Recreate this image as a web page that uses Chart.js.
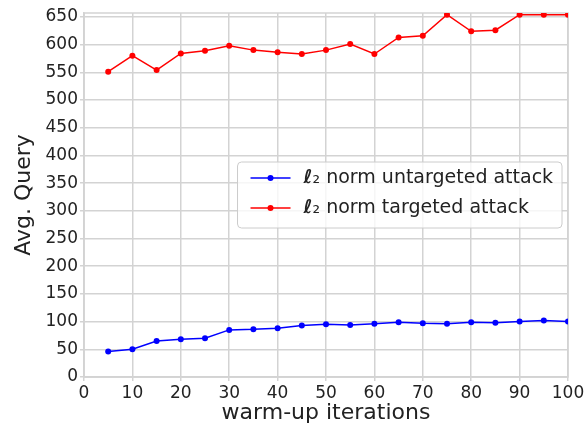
<!DOCTYPE html>
<html>
<head>
<meta charset="utf-8">
<script src="https://cdn.jsdelivr.net/npm/chart.js@4.4.0/dist/chart.umd.min.js"></script>
<style>
  html, body { margin: 0; padding: 0; background: #fff; }
  #wrap { width: 587px; height: 426px; }
</style>
</head>
<body>
<div id="wrap"><canvas id="chart"></canvas></div>
<script>
const iterations = [5, 10, 15, 20, 25, 30, 35, 40, 45, 50, 55, 60, 65, 70, 75, 80, 85, 90, 95, 100];
const untargeted = [46, 50, 65, 68, 70, 85, 86, 88, 93, 95, 94, 96, 99, 97, 96, 99, 98, 100, 102, 100];
const targeted = [551, 580, 554, 584, 589, 598, 590, 586, 583, 590, 601, 583, 613, 616, 654, 624, 626, 654, 654, 654];
const seriesNames = ['ℓ₂ norm untargeted attack', 'ℓ₂ norm targeted attack'];
const yTicks = [0, 50, 100, 150, 200, 250, 300, 350, 400, 450, 500, 550, 600, 650];
const xTickStep = 10;

const FONT = '"DejaVu Sans", sans-serif';
const GRID = '#d3d3d3';
const TEXT = '#222';

// light frame round the plot area, like the matplotlib box
const frame = {
  id: 'frame',
  beforeDatasetsDraw(chart) {
    const a = chart.chartArea, ctx = chart.ctx;
    ctx.save();
    ctx.strokeStyle = GRID;
    ctx.lineWidth = 1.5;
    ctx.strokeRect(a.left, a.top, a.right - a.left, a.bottom - a.top);
    ctx.restore();
  }
};

// boxed legend sitting at the centre right of the plot
const boxLegend = {
  id: 'boxLegend',
  afterDraw(chart) {
    const ctx = chart.ctx, a = chart.chartArea;
    const sets = chart.data.datasets;
    ctx.save();
    ctx.font = '19px ' + FONT;
    const rowH = 30, lineW = 40, gap = 13, padL = 13, padR = 10;
    const textW = Math.max(...sets.map(d => ctx.measureText(d.label).width));
    const w = padL + lineW + gap + textW + padR;
    const h = rowH * sets.length + 6;
    const x = a.right - 6 - w;
    const y = (a.top + a.bottom) / 2 - h / 2;

    ctx.beginPath();
    ctx.roundRect(x, y, w, h, 4);
    ctx.fillStyle = 'rgba(255,255,255,0.8)';
    ctx.fill();
    ctx.strokeStyle = '#cccccc';
    ctx.lineWidth = 1;
    ctx.stroke();

    sets.forEach((d, i) => {
      const cy = y + 16 + i * rowH;
      ctx.strokeStyle = d.borderColor;
      ctx.lineWidth = 1.5;
      ctx.beginPath();
      ctx.moveTo(x + padL, cy);
      ctx.lineTo(x + padL + lineW, cy);
      ctx.stroke();
      ctx.fillStyle = d.borderColor;
      ctx.beginPath();
      ctx.arc(x + padL + lineW / 2, cy, 3, 0, Math.PI * 2);
      ctx.fill();

      ctx.fillStyle = TEXT;
      ctx.textBaseline = 'middle';
      let tx = x + padL + lineW + gap;
      const first = d.label.charAt(0);
      const rest = d.label.slice(1);
      ctx.font = 'italic bold 19px ' + FONT;
      ctx.fillText(first, tx, cy);
      tx += ctx.measureText(first).width;
      ctx.font = '19px ' + FONT;
      ctx.fillText(rest, tx, cy);
    });
    ctx.restore();
  }
};

const ctx = document.getElementById('chart').getContext('2d');
const chart = new Chart(ctx, {
  type: 'line',
  data: {
    datasets: [
      {
        label: seriesNames[0],
        data: iterations.map((x, i) => ({ x: x, y: untargeted[i] })),
        borderColor: '#0000ff',
        backgroundColor: '#0000ff',
        borderWidth: 1.5,
        pointRadius: 3,
        pointBorderWidth: 0,
        fill: false
      },
      {
        label: seriesNames[1],
        data: iterations.map((x, i) => ({ x: x, y: targeted[i] })),
        borderColor: '#ff0000',
        backgroundColor: '#ff0000',
        borderWidth: 1.5,
        pointRadius: 3,
        pointBorderWidth: 0,
        fill: false
      }
    ]
  },
  options: {
    animation: false,
    responsive: true,
    maintainAspectRatio: false,
    layout: { padding: { left: 0, top: 13, right: 19, bottom: 0 } },
    plugins: {
      legend: { display: false },
      tooltip: { enabled: false }
    },
    scales: {
      x: {
        type: 'linear',
        min: 0,
        max: 100,
        ticks: { stepSize: xTickStep, color: TEXT, font: { family: FONT, size: 17 }, padding: 2, maxRotation: 0 },
        grid: { color: GRID, lineWidth: 1.5, tickLength: 4, tickColor: GRID },
        border: { color: GRID, width: 1.5 },
        title: { display: true, text: 'warm-up iterations', color: TEXT, font: { family: FONT, size: 22 }, padding: { top: 0, bottom: 0 } },
        afterFit(scale) { scale.height = 49; }
      },
      y: {
        min: 0,
        max: 657,
        ticks: { color: TEXT, font: { family: FONT, size: 17 }, padding: 2 },
        afterBuildTicks(scale) { scale.ticks = yTicks.map(v => ({ value: v })); },
        grid: { color: GRID, lineWidth: 1.5, tickLength: 4, tickColor: GRID },
        border: { color: GRID, width: 1.5 },
        title: { display: true, text: 'Avg. Query', color: TEXT, font: { family: FONT, size: 22 }, padding: { top: 11, bottom: 0 } },
        afterFit(scale) { scale.width = 84; }
      }
    }
  },
  plugins: [frame, boxLegend]
});
</script>
</body>
</html>
